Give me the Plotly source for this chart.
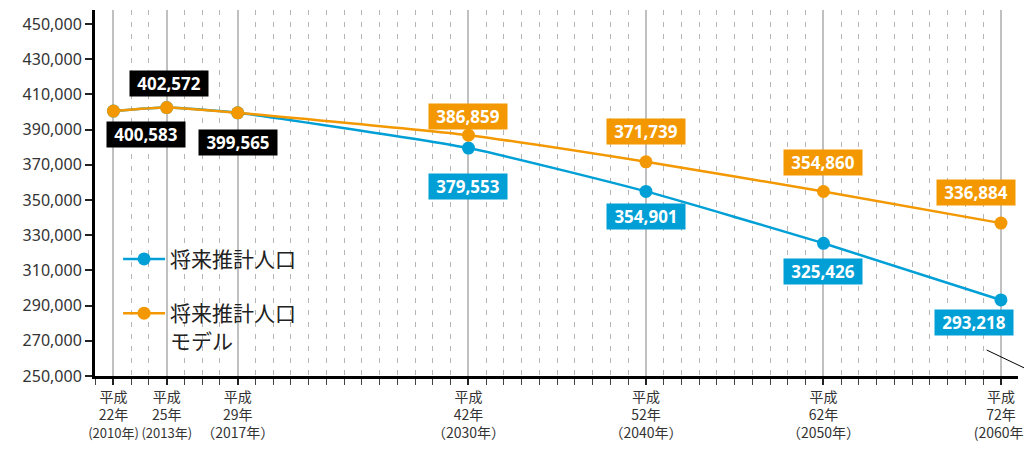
import plotly.graph_objects as go

# ---- data ----
years = [2010, 2013, 2017, 2030, 2040, 2050, 2060]
blue_values = [400583, 402572, 399565, 379553, 354901, 325426, 293218]
orange_values = [400583, 402572, 399565, 386859, 371739, 354860, 336884]
shared_count = 3  # first points common to both series
blue_name = "将来推計人口"
orange_name = "将来推計人口<br>モデル"
tick_labels = [
    "平成<br>22年<br><span style='font-size:13px'>(2010年)</span>",
    "平成<br>25年<br><span style='font-size:13px'>(2013年)</span>",
    "平成<br>29年<br>（2017年）",
    "平成<br>42年<br>（2030年）",
    "平成<br>52年<br>（2040年）",
    "平成<br>62年<br>（2050年）",
    "平成<br>72年<br>(2060年)",
]
y_ticks = list(range(250000, 450001, 20000))

# ---- styles ----
BLUE = "#00a0d6"
ORANGE = "#f39800"
FONT = "Noto Sans CJK JP"

fig = go.Figure()
fig.add_trace(go.Scatter(
    x=years, y=blue_values, name=blue_name, mode="lines+markers",
    line=dict(color=BLUE, width=2.5, shape="spline", smoothing=0.5),
    marker=dict(color=BLUE, size=13), legendgroup="b",
))
fig.add_trace(go.Scatter(
    x=years, y=orange_values, name=orange_name, mode="lines+markers",
    line=dict(color=ORANGE, width=2.5, shape="spline", smoothing=0.5),
    marker=dict(color=ORANGE, size=13), legendgroup="o",
))

# value labels
shared_off = [(33, -23), (2, 24), (0, -30)]
orange_off = [(0, 19), (0, 30), (0, 29), (-25, 31)]
blue_off = [(0, -38), (0, -25), (0, -28), (-27, -23)]

def add_label(x, v, color, off):
    fig.add_annotation(
        x=x, y=v, text=f"{v:,}", showarrow=False,
        xshift=off[0], yshift=off[1],
        font=dict(family="Noto Sans", size=17, color="white", weight="bold"),
        bgcolor=color, borderpad=2, width=74, height=21,
    )

for i in range(shared_count):
    add_label(years[i], orange_values[i], "black", shared_off[i])
for k, i in enumerate(range(shared_count, len(years))):
    add_label(years[i], orange_values[i], ORANGE, orange_off[k])
    add_label(years[i], blue_values[i], BLUE, blue_off[k])

# leader line at bottom right
fig.add_shape(type="line", xref="paper", yref="paper",
              x0=0.966, y0=0.071, x1=1.016, y1=0.011,
              line=dict(color="black", width=1))

fig.update_layout(
    width=1024, height=453,
    margin=dict(l=87, r=14, t=2, b=85, autoexpand=False),
    paper_bgcolor="white", plot_bgcolor="white",
    font=dict(family=FONT, color="#333"),
    showlegend=True,
    legend=dict(
        x=0.025, xanchor="left", y=0.375, yanchor="top",
        font=dict(family=FONT, size=21, color="#222"),
        bgcolor="rgba(0,0,0,0)", tracegroupgap=24, valign="top",
        itemwidth=42,
    ),
    xaxis=dict(
        range=[2008.96, 2060.96], automargin=False,
        tickmode="array", tickvals=years, ticktext=tick_labels, tickangle=0,
        tickfont=dict(family=FONT, size=14, color="#333"),
        ticklabeloverflow="allow",
        ticks="outside", ticklen=6, tickwidth=1.5, tickcolor="#222",
        showgrid=True, gridcolor="#c0c0c0", gridwidth=1.5,
        showline=True, linecolor="black", linewidth=3,
        zeroline=False,
        minor=dict(dtick=1, tick0=2010, ticks="outside", ticklen=6, tickwidth=1,
                   tickcolor="#444", showgrid=True, gridcolor="#b5b5b5",
                   griddash="5px,7px", gridwidth=1),
    ),
    yaxis=dict(
        range=[250000, 458000], automargin=False,
        tickmode="array", tickvals=y_ticks, tickformat=",d",
        tickfont=dict(family="Noto Sans", size=16, color="#333"),
        ticks="outside", ticklen=7, tickwidth=1.5, tickcolor="#222",
        showgrid=False, showline=True, linecolor="black", linewidth=3,
        zeroline=False,
    ),
)

fig.write_html("out.html")
